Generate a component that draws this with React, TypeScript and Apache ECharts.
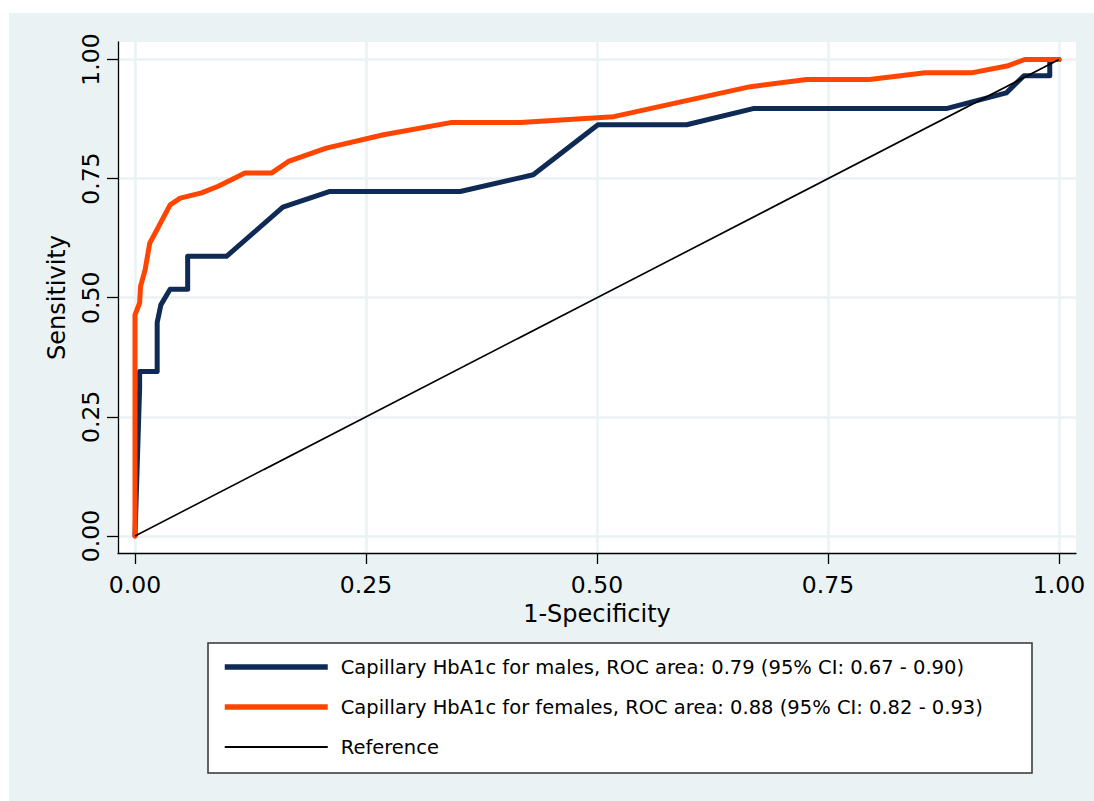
import React, { useEffect, useRef } from "react";
import * as echarts from "echarts";

const tickValues = [0, 0.25, 0.5, 0.75, 1];

const malesName = "Capillary HbA1c for males, ROC area: 0.79 (95% CI: 0.67 - 0.90)";
const femalesName = "Capillary HbA1c for females, ROC area: 0.88 (95% CI: 0.82 - 0.93)";
const referenceName = "Reference";

// 1-Specificity, Sensitivity
const malesX = [0, 0.005, 0.005, 0.024, 0.024, 0.028, 0.038, 0.057, 0.057, 0.099, 0.16, 0.211, 0.352, 0.431, 0.501, 0.597, 0.669, 0.878, 0.943, 0.962, 0.99, 0.99, 1];
const malesY = [0, 0.31, 0.345, 0.345, 0.448, 0.485, 0.518, 0.518, 0.587, 0.587, 0.69, 0.723, 0.723, 0.758, 0.863, 0.863, 0.897, 0.897, 0.93, 0.966, 0.966, 1, 1];

const femalesX = [0, 0, 0.005, 0.006, 0.011, 0.016, 0.02, 0.038, 0.049, 0.072, 0.09, 0.119, 0.148, 0.166, 0.207, 0.269, 0.343, 0.417, 0.518, 0.666, 0.727, 0.795, 0.855, 0.905, 0.945, 0.963, 1];
const femalesY = [0, 0.464, 0.489, 0.524, 0.559, 0.615, 0.629, 0.695, 0.709, 0.72, 0.734, 0.762, 0.762, 0.786, 0.814, 0.842, 0.868, 0.868, 0.88, 0.943, 0.958, 0.958, 0.972, 0.972, 0.987, 1, 1];

const referenceX = [0, 1];
const referenceY = [0, 1];

const zip = (xs: number[], ys: number[]) => xs.map((x, i) => [x, ys[i]]);

const FONT = "DejaVu Sans";
const BG = "#EAF2F3";
const NAVY = "#0E2A55";
const ORANGE = "#FF4500";

export default function App() {
  const ref = useRef<HTMLDivElement>(null);
  useEffect(() => {
    if (!ref.current) return;
    const chart = echarts.init(ref.current, undefined, { renderer: "svg" });
    const axisCommon = {
      axisLine: { show: true, onZero: false, lineStyle: { color: "#000", width: 1.3 } },
      axisTick: { show: true, length: 11, lineStyle: { color: "#000", width: 1.3 }, customValues: tickValues },
      splitLine: { show: true, lineStyle: { color: BG, width: 2.5 } },
      nameLocation: "middle" as const,
      nameTextStyle: { fontFamily: FONT, fontSize: 24, color: "#000" },
    };
    const hiddenSymbol = { color: "rgba(0,0,0,0)", borderWidth: 0, opacity: 0 };
    chart.setOption({
      animation: false,
      backgroundColor: BG,
      textStyle: { fontFamily: FONT },
      grid: {
        show: true,
        backgroundColor: "#fff",
        borderWidth: 0,
        left: 109,
        right: 18,
        top: 29,
        bottom: 248,
      },
      xAxis: {
        type: "value",
        min: -0.0184,
        max: 1.0184,
        name: "1-Specificity",
        nameGap: 48,
        ...axisCommon,
        axisLabel: {
          customValues: tickValues,
          formatter: (v: number) => v.toFixed(2),
          margin: 20,
          fontFamily: FONT,
          fontSize: 23.5,
          color: "#000",
        },
      },
      yAxis: {
        type: "value",
        min: -0.0357,
        max: 1.0367,
        name: "Sensitivity",
        nameGap: 49,
        nameRotate: 90,
        ...axisCommon,
        axisLabel: {
          customValues: tickValues,
          formatter: (v: number) => v.toFixed(2),
          rotate: 90,
          margin: 15,
          fontFamily: FONT,
          fontSize: 23.5,
          color: "#000",
        },
      },
      graphic: [
        {
          type: "rect",
          z: 1,
          shape: { x: 199, y: 630, width: 824, height: 130 },
          style: { fill: "#fff", stroke: "#333", lineWidth: 1.5 },
        },
      ],
      legend: {
        orient: "vertical",
        left: 213,
        top: 644,
        padding: 0,
        itemWidth: 103,
        itemHeight: 20,
        itemGap: 20,
        z: 5,
        itemStyle: hiddenSymbol,
        textStyle: { fontFamily: FONT, fontSize: 19.5, color: "#000", padding: [0, 0, 0, 8] },
        data: [
          { name: malesName, itemStyle: hiddenSymbol, lineStyle: { color: NAVY, width: 5.5, cap: "butt" } },
          { name: femalesName, itemStyle: hiddenSymbol, lineStyle: { color: ORANGE, width: 5.5, cap: "butt" } },
          { name: referenceName, itemStyle: hiddenSymbol, lineStyle: { color: "#000", width: 2, cap: "butt" } },
        ],
      },
      series: [
        {
          name: malesName,
          type: "line",
          data: zip(malesX, malesY),
          symbol: "none",
          color: NAVY,
          lineStyle: { color: NAVY, width: 5, cap: "round", join: "round" },
        },
        {
          name: femalesName,
          type: "line",
          data: zip(femalesX, femalesY),
          symbol: "none",
          color: ORANGE,
          lineStyle: { color: ORANGE, width: 5, cap: "round", join: "round" },
        },
        {
          name: referenceName,
          type: "line",
          data: zip(referenceX, referenceY),
          symbol: "none",
          color: "#000",
          lineStyle: { color: "#000", width: 1.6 },
        },
      ],
    });
    return () => chart.dispose();
  }, []);
  return (
    <div
      ref={ref}
      style={{ position: "fixed", left: 9, top: 13, width: 1085, height: 788 }}
    />
  );
}
